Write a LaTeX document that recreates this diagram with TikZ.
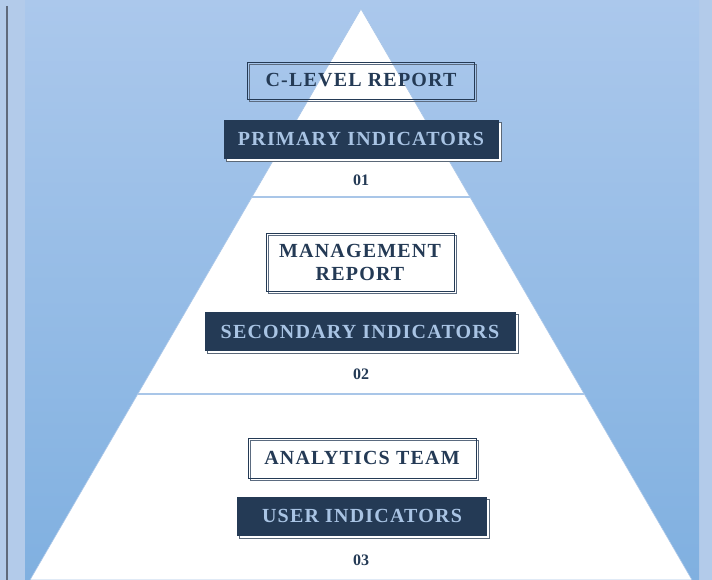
\documentclass[tikz,border=0pt]{standalone}
\usepackage{fontspec}
\setmainfont{Liberation Serif}
\newfontfamily\capsfont[LetterSpace=6]{Liberation Serif}
\usetikzlibrary{positioning,calc,shadows}

\definecolor{navy}{HTML}{243A55}
\definecolor{paleblue}{HTML}{A9C4E4}
\definecolor{skyback}{HTML}{B3CBEA}
\definecolor{skytop}{HTML}{ABC8EC}
\definecolor{skybottom}{HTML}{80B0E0}
\definecolor{rulecol}{HTML}{A9C6E8}
\definecolor{spine}{HTML}{5F6A7C}
\definecolor{shade}{HTML}{5B6878}

\begin{document}
\begin{tikzpicture}[
    x=1pt, y=1pt,
    font=\capsfont\bfseries\fontsize{20}{23}\selectfont,
    frame/.style={draw=navy, line width=0.8pt, text=navy, inner sep=0pt, align=center,
        general shadow={shadow xshift=2pt, shadow yshift=-2pt, draw=navy!75, line width=0.7pt}},
    tag/.style={fill=navy, text=paleblue, inner sep=0pt, minimum height=39pt,
        general shadow={shadow xshift=2.5pt, shadow yshift=-2.5pt, fill=white, draw=shade, line width=0.6pt}},
    num/.style={text=navy, font=\bfseries\fontsize{16}{18}\selectfont},
    divider/.style={draw=rulecol, line width=1.6pt}
]
\useasboundingbox (0,0) rectangle (712,580);

% ===== Background =====
\fill[skyback] (0,0) rectangle (712,580);
\shade[top color=skytop, bottom color=skybottom] (25,0) rectangle (699,580);
\draw[spine, line width=2pt] (7,574) -- (7,0);

% ===== Pyramid =====
\coordinate (apex) at (361,571);
\coordinate (baseL) at (30,0);
\coordinate (baseR) at (692,0);
\filldraw[fill=white, draw=rulecol, line width=0.6pt] (apex) -- (baseL) -- (baseR) -- cycle;
\draw[divider] ($(apex)!0.329!(baseL)$) -- ($(apex)!0.329!(baseR)$);
\draw[divider] ($(apex)!0.674!(baseL)$) -- ($(apex)!0.674!(baseR)$);

% ===== Level 1 =====
\node[frame, minimum width=227pt, minimum height=37pt] (clevel) at (361,499.5) {C-LEVEL REPORT};
\node[tag, minimum width=275pt, below=20pt of clevel] (primary) {PRIMARY INDICATORS};
\node[num] (n1) at (361,400) {01};

% ===== Level 2 =====
\node[frame, minimum width=188pt, minimum height=58pt] (mgmt) at (360,318) {MANAGEMENT\\REPORT};
\node[tag, minimum width=311pt, below=20.5pt of mgmt] (secondary) {SECONDARY INDICATORS};
\node[num] (n2) at (361,206) {02};

% ===== Level 3 =====
\node[frame, minimum width=228pt, minimum height=40pt] (team) at (362,122) {ANALYTICS TEAM};
\node[tag, minimum width=250pt, below=18pt of team] (user) {USER INDICATORS};
\node[num] (n3) at (361,20) {03};

\end{tikzpicture}
\end{document}
